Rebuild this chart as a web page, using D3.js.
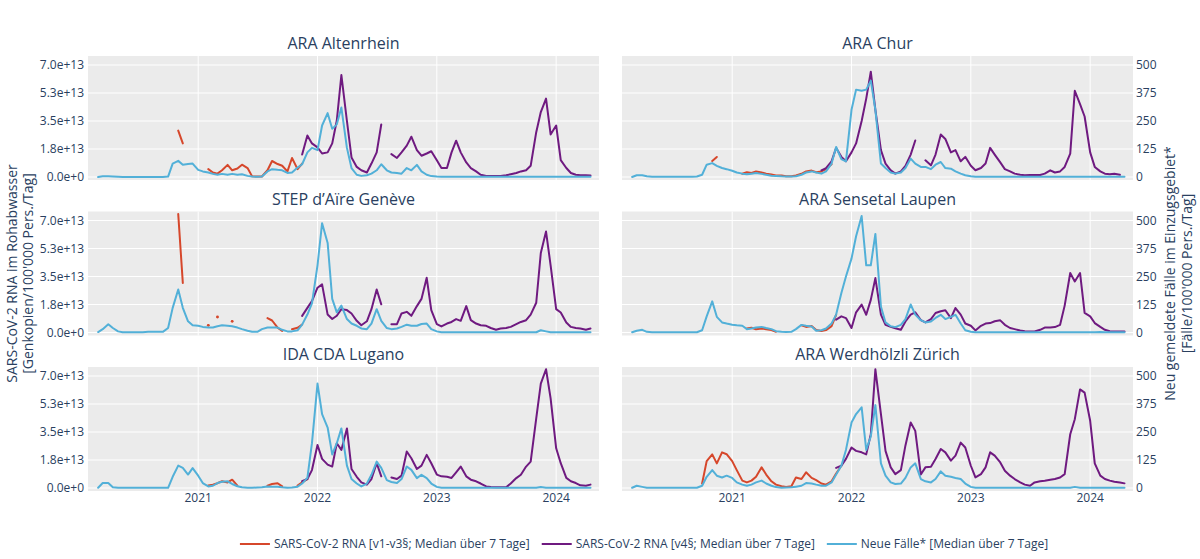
<!DOCTYPE html>
<html><head><meta charset="utf-8">
<script src="https://cdn.jsdelivr.net/npm/d3@7"></script>
<style>
html,body{margin:0;padding:0;background:#fff;}
svg{display:block;font-family:"Open Sans",Verdana,Arial,sans-serif;}
</style></head>
<body><svg id="chart" width="1200" height="559"></svg>
<script>
// ---------- DATA ----------
// semi-monthly sampling points (1st and 15th of each month), Mar 2020 .. Apr 2024
const dateLabels = [];
for (let y = 2020; y <= 2024; y++) {
  for (let m = 1; m <= 12; m++) {
    if (y === 2020 && m < 3) continue;
    if (y === 2024 && m > 4) continue;
    const mm = String(m).padStart(2, "0");
    dateLabels.push(`${y}-${mm}-01`, `${y}-${mm}-15`);
  }
}
const stationNames = ["ARA Altenrhein", "ARA Chur", "STEP d’Aïre Genève", "ARA Sensetal Laupen", "IDA CDA Lugano", "ARA Werdhölzli Zürich"];
const seriesNames = ["SARS-CoV-2 RNA [v1-v3§; Median über 7 Tage]", "SARS-CoV-2 RNA [v4§; Median über 7 Tage]", "Neue Fälle* [Median über 7 Tage]"];
const leftTicks = [0, 1.75e13, 3.5e13, 5.25e13, 7e13];
const leftTickLabels = ["0.0e+0", "1.8e+13", "3.5e+13", "5.3e+13", "7.0e+13"];
const rightTicks = [0, 125, 250, 375, 500];
const yearTicks = ["2021-01-01", "2022-01-01", "2023-01-01", "2024-01-01"];
const yearTickLabels = ["2021", "2022", "2023", "2024"];

// Neue Fälle per 100'000 (right axis), starting at first sampling point
const casesAltenrhein = [0,3,3,2,1,0,0,0,0,0, 0,0,0,0,2,60,72,55,58,60, 32,25,20,14,10,14,10,14,10,12, 5,2,1,2,25,35,32,30,18,20, 42,57,110,130,120,230,285,215,235,310, 130,40,10,5,8,15,30,57,30,20, 18,15,40,30,54,25,10,4,2,1, 1,1,1,1,1,1,1,1,1,1, 1,1,1,1,1,1,1,1,1,1, 1,1,1,1,1,1,1,1,1,1];
const casesChur = [0,8,8,3,1,1,1,1,1,1, 1,1,1,2,10,55,62,50,40,35, 28,20,15,12,15,18,14,10,6,5, 3,2,2,3,10,20,25,20,15,25, 60,134,80,70,300,390,385,390,430,300, 60,40,20,15,20,40,82,60,45,45, 35,55,67,40,37,25,15,8,3,1, 1,1,1,1,1,1,1,1,1,1, 1,1,1,1,1,1,1,1,1,1, 1,1,1,1,1,1,1,1,1,1];
const casesGeneve = [2,15,37,20,5,1,1,1,1,1, 3,3,3,3,20,110,192,110,50,32, 30,25,22,22,28,32,30,28,22,15, 8,3,3,15,22,22,22,12,5,5, 10,35,80,130,300,488,400,150,90,120, 60,40,30,18,15,40,104,52,20,15, 18,25,35,30,30,38,40,15,5,1, 1,1,1,1,1,1,1,1,1,1, 1,1,1,1,1,1,1,1,1,10, 5,1,1,1,1,1,1,1,1,1];
const casesLaupen = [1,8,12,3,1,1,1,1,1,1, 1,1,1,1,10,72,139,70,45,40, 35,32,30,15,18,22,25,20,15,6, 3,2,3,15,34,30,27,8,10,18, 40,80,176,250,330,430,520,300,300,440, 116,45,28,24,34,60,125,80,55,45, 49,65,79,60,70,79,40,10,3,1, 1,1,1,1,1,1,1,1,1,1, 1,1,1,1,1,1,1,1,1,1, 1,1,1,1,2,1,1,1,1,1];
const casesLugano = [1,22,22,3,1,1,1,1,1,1, 1,1,1,1,1,50,100,90,60,89, 55,22,7,10,22,28,30,18,8,3, 1,1,2,3,7,6,6,3,1,2, 6,20,45,200,466,330,270,150,200,266, 100,40,20,7,20,59,118,90,35,27, 22,40,96,81,44,59,44,20,5,1, 1,1,1,1,1,1,1,1,1,1, 1,1,1,1,1,1,1,1,1,4, 1,1,1,1,1,1,1,1,1,1];
const casesZurich = [1,10,5,1,1,1,1,1,1,1, 1,1,1,1,10,50,80,55,47,55, 45,25,15,10,15,25,33,20,10,4, 1,2,3,6,10,22,20,15,10,10, 25,60,99,170,292,330,360,170,230,370, 110,55,25,18,20,45,92,110,40,30, 25,40,74,55,50,45,40,20,5,1, 1,1,1,1,1,1,1,1,1,1, 1,1,1,1,1,1,1,1,1,5, 1,1,1,1,1,1,1,1,1,1];

// RNA v1-v3 (units of 1e13 Genkopien/100'000 Pers./Tag) - first sampling index + values
const rnaOldAltenrhein = {start: 16, values: [2.9,2.1,null,null,null,null, 0.49,0.28,0.21,0.42,0.76,0.42,0.53,0.77,0.56,0.04, 0.03,0.03,0.42,1.0,0.81,0.7,0.35,1.19,0.49,0.84]};
const rnaOldChur = {start: 16, values: [1.0,1.25,null,null,null,null, 0.2,0.3,0.25,0.35,0.28,0.2,0.15,0.1,0.1,0.05, 0.05,0.1,0.2,0.35,0.4,0.3,0.35,0.5,0.8]};
const rnaOldGeneve = {start: 16, values: [7.4,3.1,null,null,null,null,0.45,null,0.97,null,null,0.7,null,null,null,null,null,null,0.9,0.75,0.3,0.1,null,0.2,0.3,0.5]};
const rnaOldLaupen = {start: 23, values: [0.25,0.3,0.2,0.25,0.2,0.15,0.05,null,null,null,null,0.45,0.35,0.4,0.15,0.1,0.15,0.4,1.1]};
const rnaOldLugano = {start: 22, values: [0.15,0.2,0.3,0.42,0.35,0.52,0.15,null,null,null,null,null,0.15,0.25,0.3,0.1,null,null,0.15,0.35,0.55]};
const rnaOldZurich = {start: 14, values: [0.28,1.68,2.1,1.54,2.23,2.11,1.68,1.12,0.46,0.35, 0.46,0.7,1.29,0.84,0.42,0.21,0.11,0.07,0.11,0.66, 0.56,0.98,0.63,0.49,0.28,0.21,0.42,0.91,1.39]};

// RNA v4 (units of 1e13)
const rnaNewAltenrhein = {start: 41, values: [1.4,2.59,2.1,1.85,1.47,1.54,2.1,3.53,6.37, 3.5,1.22,0.63,0.42,0.28,0.84,1.54,3.28,null,1.43, 1.19,1.54,1.96,2.52,1.68,1.33,1.47,1.61,1.05,0.56, 0.56,1.54,2.27,1.54,0.91,0.56,0.35,0.14,0.07,0.06, 0.06,0.06,0.11,0.17,0.25,0.35,0.42,0.7,2.8,4.06, 4.9,2.66,3.22,1.05,0.56,0.25,0.14,0.11,0.11,0.1]};
const rnaNewChur = {start: 38, values: [0.42,0.56,0.98,1.82,1.26,0.98,1.54,2.1,3.5,4.9,6.58,4.2, 1.68,0.84,0.42,0.21,0.35,0.7,1.4,2.28,null,1.04, 0.73,1.4,2.66,2.38,1.54,1.68,0.98,1.26,0.7,0.42, 0.56,0.84,1.82,1.4,0.91,0.49,0.35,0.21,0.14,0.11, 0.13,0.13,0.13,0.21,0.42,0.28,0.35,0.63,1.46,5.39, 4.55,3.78,1.54,0.63,0.35,0.21,0.17,0.2,0.14]};
const rnaNewGeneve = {start: 41, values: [1.04,1.54,1.96,2.8,3.01,1.12,0.84,1.05,1.46, 1.4,1.19,0.73,0.45,0.7,1.46,2.69,1.76,null,0.52, 0.52,1.19,1.29,1.04,1.65,2.1,3.42,1.4,0.52,0.38, 0.56,0.66,0.84,0.73,1.65,0.77,0.56,0.45,0.42,0.28, 0.17,0.25,0.28,0.35,0.52,0.66,0.77,1.12,1.86,4.97, 6.31,4.2,1.46,1.25,0.62,0.35,0.28,0.25,0.17,0.25]};
const rnaNewLaupen = {start: 41, values: [0.8,1.01,0.9,0.28,1.26,1.74,1.11,2.04,3.4, 1.12,0.48,0.35,0.27,0.17,0.69,1.12,1.26,0.77,0.63, 0.84,1.22,1.33,1.39,0.9,1.53,1.12,0.56,0.42,0.13, 0.42,0.56,0.59,0.7,0.76,0.48,0.28,0.21,0.13,0.08, 0.07,0.06,0.17,0.31,0.31,0.34,0.48,1.68,3.72,3.19, 3.72,1.22,1.01,0.59,0.35,0.17,0.08,0.06,0.06,0.06]};
const rnaNewLugano = {start: 41, values: [0.42,0.56,1.12,2.69,1.82,1.46,1.34,2.8,2.38, 3.72,1.19,0.7,0.35,0.21,0.56,1.55,0.73,null,0.66, 0.56,0.77,2.28,1.86,1.19,1.4,2.07,1.55,0.84,0.73, 0.7,0.63,0.98,1.34,0.73,0.52,0.42,0.28,0.1,0.06, 0.04,0.04,0.04,0.28,0.62,0.83,1.34,1.65,4.35,6.52, 7.42,5.6,2.48,1.55,0.63,0.42,0.31,0.17,0.14,0.21]};
const rnaNewZurich = {start: 41, values: [1.26,1.4,1.82,2.53,2.32,2.23,2.1,3.36,7.42, 4.62,2.32,1.29,0.87,1.12,2.66,4.09,3.57,0.84,1.29, 1.33,1.81,2.44,2.23,1.71,2.02,2.84,2.53,1.39,0.66, 0.87,1.29,2.23,2.02,1.6,1.08,0.77,0.56,0.35,0.21, 0.14,0.35,0.42,0.46,0.52,0.56,0.66,0.87,3.36,4.3, 6.16,5.96,4.2,1.54,0.77,0.56,0.46,0.39,0.35,0.29]};

const colors = ["#d6472b", "#6f1a80", "#52b0d8"];

// ---------- LAYOUT ----------
const svg = d3.select("#chart");
const parse = d3.timeParse("%Y-%m-%d");
const dates = dateLabels.map(parse);
const colX = [88, 622], panelW = 511;
const rowY = [56, 211.5, 367], panelH = 124;
const textColor = "#2a3f5f";

const x = d3.scaleTime().domain([parse("2020-01-30"), parse("2024-05-11")]).range([0, panelW]);
const yL = d3.scaleLinear().domain([-0.1875e13, 7.5625e13]).range([panelH, 0]);
const yR = d3.scaleLinear().domain([-0.1875 * 500 / 7, 7.5625 * 500 / 7]).range([panelH, 0]);

const panels = [
  {name: stationNames[0], cases: casesAltenrhein, old: rnaOldAltenrhein, nw: rnaNewAltenrhein},
  {name: stationNames[1], cases: casesChur, old: rnaOldChur, nw: rnaNewChur},
  {name: stationNames[2], cases: casesGeneve, old: rnaOldGeneve, nw: rnaNewGeneve},
  {name: stationNames[3], cases: casesLaupen, old: rnaOldLaupen, nw: rnaNewLaupen},
  {name: stationNames[4], cases: casesLugano, old: rnaOldLugano, nw: rnaNewLugano},
  {name: stationNames[5], cases: casesZurich, old: rnaOldZurich, nw: rnaNewZurich}
];

function expandRna(s) {
  return s.values.map((v, k) => ({d: dates[s.start + k], v: v == null ? null : v * 1e13}));
}

panels.forEach((p, idx) => {
  const col = idx % 2, row = Math.floor(idx / 2);
  const g = svg.append("g").attr("transform", `translate(${colX[col]},${rowY[row]})`);
  g.append("rect").attr("width", panelW).attr("height", panelH).attr("fill", "#ebebeb");
  // grid
  g.selectAll(".hg").data(leftTicks).join("line")
    .attr("x1", 0).attr("x2", panelW)
    .attr("y1", d => yL(d)).attr("y2", d => yL(d))
    .attr("stroke", "#fff").attr("stroke-width", 1);
  g.selectAll(".vg").data(yearTicks.map(parse)).join("line")
    .attr("x1", d => x(d)).attr("x2", d => x(d))
    .attr("y1", 0).attr("y2", panelH)
    .attr("stroke", "#fff").attr("stroke-width", 1);

  const clipId = "clip" + idx;
  g.append("clipPath").attr("id", clipId).append("rect").attr("width", panelW).attr("height", panelH);
  const lg = g.append("g").attr("clip-path", `url(#${clipId})`);

  const lineL = d3.line().defined(d => d.v != null).x(d => x(d.d)).y(d => yL(d.v));
  const lineR = d3.line().defined(d => d.v != null).x(d => x(d.d)).y(d => yR(d.v));

  const drawSeries = (data, lineGen, yScale, color) => {
    lg.append("path").datum(data).attr("d", lineGen)
      .attr("fill", "none").attr("stroke", color).attr("stroke-width", 2)
      .attr("stroke-linejoin", "round").attr("stroke-linecap", "round");
    // isolated points
    const iso = data.filter((d, k) => d.v != null && (k === 0 || data[k - 1].v == null) && (k === data.length - 1 || data[k + 1].v == null));
    lg.selectAll(null).data(iso).join("circle")
      .attr("cx", d => x(d.d)).attr("cy", d => yScale(d.v)).attr("r", 1.4).attr("fill", color);
  };
  drawSeries(expandRna(p.old), lineL, yL, colors[0]);
  drawSeries(expandRna(p.nw), lineL, yL, colors[1]);
  drawSeries(p.cases.map((v, k) => ({d: dates[k], v})), lineR, yR, colors[2]);

  // title
  svg.append("text").attr("x", colX[col] + panelW / 2).attr("y", rowY[row] - 7)
    .attr("text-anchor", "middle").attr("font-size", 16).attr("fill", textColor).text(p.name);

  // axes tick labels
  if (col === 0) {
    g.selectAll(".lt").data(leftTicks).join("text")
      .attr("x", -4).attr("y", d => yL(d)).attr("dy", "0.35em")
      .attr("text-anchor", "end").attr("font-size", 12).attr("fill", textColor)
      .text((d, k) => leftTickLabels[k]);
  } else {
    g.selectAll(".rt").data(rightTicks).join("text")
      .attr("x", panelW + 3).attr("y", d => yR(d)).attr("dy", "0.35em")
      .attr("text-anchor", "start").attr("font-size", 12).attr("fill", textColor)
      .text(d => d);
  }
  if (row === 2) {
    g.selectAll(".xt").data(yearTicks.map(parse)).join("text")
      .attr("x", d => x(d)).attr("y", panelH + 11)
      .attr("text-anchor", "middle").attr("font-size", 12).attr("fill", textColor)
      .text((d, k) => yearTickLabels[k]);
  }
});

// axis titles
const yMid = (rowY[0] + rowY[2] + panelH) / 2;
[["SARS-CoV-2 RNA im Rohabwasser", 17], ["[Genkopien/100'000 Pers./Tag]", 33]].forEach(([t, xx]) => {
  svg.append("text").attr("transform", `translate(${xx},${yMid}) rotate(-90)`)
    .attr("text-anchor", "middle").attr("font-size", 14).attr("fill", textColor).text(t);
});
[["Neu gemeldete Fälle im Einzugsgebiet*", 1175], ["[Fälle/100'000 Pers./Tag]", 1192]].forEach(([t, xx]) => {
  svg.append("text").attr("transform", `translate(${xx},${yMid}) rotate(-90)`)
    .attr("text-anchor", "middle").attr("font-size", 14).attr("fill", textColor).text(t);
});

// legend
const leg = svg.append("g");
const items = seriesNames.map((n, k) => {
  const it = leg.append("g");
  it.append("line").attr("x1", 0).attr("x2", 30).attr("y1", 0).attr("y2", 0)
    .attr("stroke", colors[k]).attr("stroke-width", 2);
  const tx = it.append("text").attr("x", 34).attr("y", 0).attr("dy", "0.35em")
    .attr("font-size", 12).attr("fill", textColor).text(n);
  return {it, w: 34 + tx.node().getComputedTextLength()};
});
const gap = 12;
const total = d3.sum(items, d => d.w) + gap * (items.length - 1);
let cx = 644 - total / 2;
items.forEach(d => { d.it.attr("transform", `translate(${cx},544)`); cx += d.w + gap; });
</script>
</body></html>
